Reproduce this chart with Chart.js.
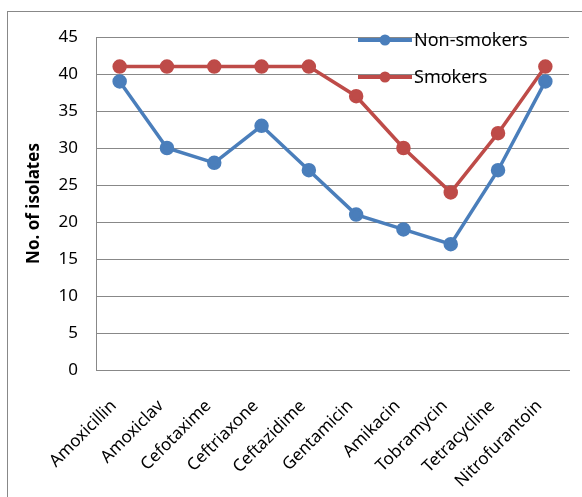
<!DOCTYPE html>
<html>
<head>
<meta charset="utf-8">
<script src="https://cdn.jsdelivr.net/npm/chart.js@4"></script>
<style>
  html, body { margin: 0; padding: 0; background: #fff; }
  #wrap { width: 582px; height: 497px; }
</style>
</head>
<body>
<div id="wrap"><canvas id="chart" width="582" height="497"></canvas></div>
<script>
const categories = ["Amoxicillin", "Amoxiclav", "Cefotaxime", "Ceftriaxone", "Ceftazidime",
                    "Gentamicin", "Amikacin", "Tobramycin", "Tetracycline", "Nitrofurantoin"];
const nonSmokers = [39, 30, 28, 33, 27, 21, 19, 17, 27, 39];
const smokers    = [41, 41, 41, 41, 41, 37, 30, 24, 32, 41];
const yTicks = [0, 5, 10, 15, 20, 25, 30, 35, 40, 45];

const FONT = "'Noto Sans', sans-serif";

// outer frame round the whole chart
const framePlugin = {
    id: "frame",
    beforeDraw(chart) {
        const ctx = chart.ctx;
        ctx.save();
        ctx.fillStyle = "#fff";
        ctx.fillRect(0, 0, chart.width, chart.height);
        ctx.strokeStyle = "#888";
        ctx.lineWidth = 1;
        ctx.strokeRect(7.5, 11.5, chart.width, chart.height);
        ctx.restore();
    }
};

// legend drawn inside the plot, top right, like the original
const innerLegend = {
    id: "innerLegend",
    afterDatasetsDraw(chart) {
        const ctx = chart.ctx;
        ctx.save();
        ctx.font = "18px " + FONT;
        ctx.textBaseline = "middle";
        chart.data.datasets.forEach((ds, i) => {
            const y = 40 + i * 37;
            ctx.strokeStyle = ds.borderColor;
            ctx.lineWidth = 4;
            ctx.beginPath();
            ctx.moveTo(358, y);
            ctx.lineTo(412, y);
            ctx.stroke();
            ctx.fillStyle = ds.borderColor;
            ctx.beginPath();
            ctx.arc(385, y, 5.5, 0, Math.PI * 2);
            ctx.fill();
            ctx.fillStyle = "#000";
            ctx.fillText(ds.label, 414, y + 1);
        });
        ctx.restore();
    }
};

new Chart(document.getElementById("chart"), {
    type: "line",
    data: {
        labels: categories,
        datasets: [
            { label: "Non-smokers", data: nonSmokers, borderColor: "#4a7ebb", backgroundColor: "#4a7ebb",
              borderWidth: 3.5, pointRadius: 5.5, pointHoverRadius: 5.5, tension: 0 },
            { label: "Smokers", data: smokers, borderColor: "#be4b48", backgroundColor: "#be4b48",
              borderWidth: 3.5, pointRadius: 5.5, pointHoverRadius: 5.5, tension: 0 }
        ]
    },
    options: {
        responsive: false,
        animation: false,
        layout: { padding: { top: 37, right: 13, left: 24, bottom: 0 } },
        plugins: { legend: { display: false }, tooltip: { enabled: false } },
        scales: {
            x: {
                offset: true,
                grid: { display: false },
                border: { color: "#888" },
                ticks: { font: { family: FONT, size: 17 }, color: "#000", maxRotation: 45, minRotation: 45,
                         padding: 18, labelOffset: -6 },
                afterFit: s => { s.height = 127; }
            },
            y: {
                min: 0, max: 45,
                afterBuildTicks: s => { s.ticks = yTicks.map(v => ({ value: v })); },
                grid: { color: "#888", drawTicks: false },
                border: { color: "#888" },
                ticks: { font: { family: FONT, size: 17 }, color: "#000", padding: 18 },
                title: { display: true, text: "No. of isolates", font: { family: FONT, size: 17, weight: "bold" }, color: "#000", padding: 0 },
                afterFit: s => { s.width = 72; }
            }
        }
    },
    plugins: [framePlugin, innerLegend]
});
</script>
</body>
</html>
